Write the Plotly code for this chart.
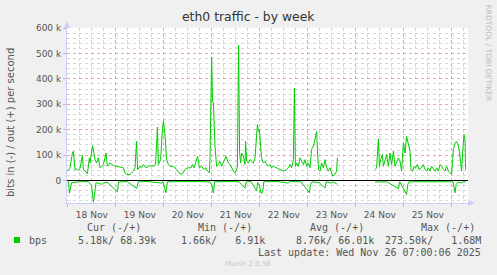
import pandas as pd
import plotly.graph_objects as go

# ---------------- data ----------------
start = pd.Timestamp("2025-11-17 23:36")
span_hours = 200.5

# out (+) traffic, hours since start / kbit/s  (None = gap)
out_hours = [0.3, 1.5, 2.7, 3.2, 4.0, 4.8, 5.7, 6.5, 7.7, 8.2, 9.0, 10.2, 11.2, 11.5, 12.8, 13.5,
             14.0, 14.8, 15.7, 16.5, 17.3, 18.2, 19.5, 20.2, 21.5, 23.2, 24.8, 26.5, 28.2, 29.0,
             29.8, 31.5, 33.2, 34.0, 34.8, 35.3, 36.5, 37.3, 38.2, 39.5, 40.7, 42.3, 43.5, 44.3,
             45.2, 45.7, 46.8, 47.7, 48.2, 48.7, 49.2, 49.8, 50.7, 51.5, 53.2, 54.8, 56.5, 57.8,
             59.0, 60.7, 62.0, 62.7, 63.5, 64.3, 65.3, 66.2, 67.3, 68.5, 69.5, 70.3, 71.2, 71.5,
             72.0, 72.3, 72.8, 73.2, 74.0, 74.8, 75.7, 76.5, 77.3, 78.5, 79.5, 80.7, 81.5, 83.2,
             84.0, 85.2, 85.8, 86.3, 86.8, 87.3, 88.2, 89.0, 89.3, 89.8, 90.7, 91.5, 92.3, 93.2,
             94.0, 94.8, 95.2, 95.7, 96.2, 96.8, 97.3, 98.2, 99.0, 99.8, 100.7, 101.5, 102.3,
             103.2, 104.8, 106.5, 108.2, 109.8, 110.7, 111.5, 112.3, 113.2, 113.7, 114.2, 114.8,
             115.7, 116.5, 117.3, 118.2, 119.0, 119.8, 120.7, 121.5, 122.3, 123.2, 124.0, 124.8,
             125.3, 125.8, 126.5, 127.3, 128.2, 129.0, 129.8, 130.7, 131.5, 132.3, 132.8, 134.0,
             134.8, 135.2, 144.0, 154.0, 154.8, 155.7, 156.2, 156.8, 157.7, 158.2, 159.0, 159.8,
             160.7, 161.5, 162.3, 163.2, 164.0, 164.8, 165.7, 166.5, 167.3, 168.2, 169.0, 169.8,
             170.7, 171.5, 172.0, 172.8, 173.5, 174.3, 175.2, 176.0, 177.3, 178.2, 179.0, 179.8,
             180.7, 181.5, 182.3, 183.2, 184.0, 184.8, 185.7, 186.5, 187.3, 188.2, 189.0, 189.8,
             190.7, 191.5, 192.3, 193.2, 194.0, 194.8, 195.7, 196.2, 196.8, 197.3, 197.8, 198.5,
             199.0, 199.3]
out_kbps = [37, 50, 108, 115, 43, 45, 40, 48, 98, 43, 38, 26, 89, 69, 137, 102,
            82, 69, 89, 50, 56, 63, 108, 56, 69, 59, 56, 52, 50, 30,
            24, 24, 37, 50, 154, 43, 56, 50, 63, 50, 56, 59, 56, 65,
            210, 63, 82, 200, 233, 200, 161, 82, 63, 56, 56, 43, 26, 27,
            43, 50, 50, 63, 50, 69, 95, 50, 56, 43, 50, 37, 30, 89,
            300, 485, 311, 305, 135, 56, 63, 76, 56, 76, 95, 69, 63, 37,
            30, 50, 533, 110, 69, 108, 95, 63, 154, 76, 69, 82, 76, 69,
            89, 161, 220, 193, 200, 135, 89, 69, 76, 63, 56, 63, 50,
            56, 50, 43, 37, 43, 50, 63, 50, 82, 363, 56, 69,
            56, 89, 76, 63, 82, 56, 69, 50, 122, 135, 161, 193,
            108, 43, 37, 69, 50, 82, 50, 37, 50, 30, 17, 24,
            37, 89, None, 43, 50, 163, 56, 82, 102, 56, 76, 102,
            56, 108, 63, 115, 56, 69, 89, 76, 37, 148, 108, 174,
            135, 115, 43, 37, 56, 50, 63, 43, 50, 63, 43, 37,
            50, 37, 56, 43, 37, 50, 37, 63, 56, 43, 37, 56,
            37, 30, 24, 122, 148, 154, 135, 115, 56, 37, 108, 180,
            161, 43]

# in (-) traffic, hours since start / kbit/s (negative, None = gap)
in_hours = [0.3, 0.8, 1.2, 2.3, 6.5, 10.7, 12.3, 13.2, 13.7, 14.5, 17.3, 18.2, 20.0, 25.2, 25.8,
            30.0, 34.8, 35.7, 40.0, 47.3, 48.0, 49.5, 50.2, 55.0, 60.0, 65.0, 71.5, 72.3, 73.2,
            73.8, 80.0, 86.0, 89.0, 89.6, 92.0, 94.8, 95.3, 96.2, 97.0, 97.8, 98.4, 105.0, 110.7,
            111.3, 117.0, 121.2, 121.8, 122.5, 126.0, 129.0, 129.6, 132.0, 133.0, 135.2, 144.0,
            154.0, 160.0, 165.7, 166.3, 169.8, 170.4, 171.0, 180.0, 188.0, 193.0, 194.0, 194.6,
            195.5, 197.0, 198.0, 199.3]
in_kbps = [-8, -5, -50, -8, -5, -4, -20, -85, -60, -8, -15, -10, -6, -44, -6,
           -4, -31, -5, -4, -10, -5, -48, -5, -4, -5, -4, -6, -15, -48,
           -5, -4, -5, -30, -5, -4, -40, -8, -20, -50, -48, -5, -4, -10,
           -4, -5, -48, -15, -5, -8, -30, -5, -10, -5, -15, None,
           -6, -5, -32, -5, -55, -15, -5, -4, -5, -5, -48, -15,
           -6, -10, -5, -5]

y_tick_values = [0, 100, 200, 300, 400, 500, 600]
y_tick_labels = ["0", "100 k", "200 k", "300 k", "400 k", "500 k", "600 k"]

legend_headers = ["Cur (-/+)", "Min (-/+)", "Avg (-/+)", "Max (-/+)"]
legend_values = ["5.18k/ 68.39k", "1.66k/   6.91k", "8.76k/ 66.01k", "273.50k/   1.68M"]
series_name = "bps"
last_update = "Last update: Wed Nov 26 07:00:06 2025"

# ---------------- layout helpers ----------------
W, H = 497, 275
L, R, T, B = 67, 468, 28, 203
GREEN = "#00CC00"
TEXT = "#555555"


def px(x):
    return (x - L) / (R - L)


def py(y):
    return (B - y) / (B - T)


def to_time(hours):
    return [start + pd.Timedelta(hours=h) for h in hours]


def to_bps(vals):
    return [None if v is None else v * 1000 for v in vals]


fig = go.Figure()
fig.add_trace(go.Scatter(x=to_time(out_hours), y=to_bps(out_kbps), mode="lines",
                         line=dict(color=GREEN, width=1), connectgaps=False,
                         hoverinfo="skip", showlegend=False))
fig.add_trace(go.Scatter(x=to_time(in_hours), y=to_bps(in_kbps), mode="lines",
                         line=dict(color=GREEN, width=1), connectgaps=False,
                         hoverinfo="skip", showlegend=False))

x0 = start
x1 = start + pd.Timedelta(hours=span_hours)

fig.update_xaxes(
    type="date", range=[x0, x1],
    tick0="2025-11-18 00:00", dtick=86400000, ticklabelmode="period",
    tickformat="%d %b", tickfont=dict(family="DejaVu Sans", size=9, color=TEXT),
    showgrid=True, gridcolor="#E8A8A8", griddash="dot", gridwidth=1,
    ticks="outside", ticklen=3, tickcolor="#E8A8A8",
    minor=dict(dtick=21600000, tick0="2025-11-18 00:00", showgrid=True,
               gridcolor="#D6D6D6", griddash="dot", ticks=""),
    showline=True, linecolor="#CCCCFF", linewidth=1, zeroline=False, fixedrange=True,
)
fig.update_yaxes(
    range=[-88500, 600000],
    tickvals=[v * 1000 for v in y_tick_values], ticktext=y_tick_labels,
    tickfont=dict(family="DejaVu Sans", size=9, color=TEXT),
    showgrid=True, gridcolor="#E8A8A8", griddash="dot", gridwidth=1,
    ticks="outside", ticklen=3, tickcolor="#E8A8A8",
    minor=dict(dtick=20000, tick0=0, showgrid=True, gridcolor="#D6D6D6",
               griddash="dot", ticks=""),
    showline=True, linecolor="#CCCCFF", linewidth=1,
    zeroline=True, zerolinecolor="#000000", zerolinewidth=1, fixedrange=True,
)

shapes = [
    # axis arrows
    dict(type="path", xref="paper", yref="paper",
         path=f"M {px(64)} {py(28)} L {px(70)} {py(28)} L {px(67)} {py(21)} Z",
         fillcolor="#CCCCFF", line=dict(width=0)),
    dict(type="path", xref="paper", yref="paper",
         path=f"M {px(468)} {py(200)} L {px(468)} {py(206)} L {px(475)} {py(203)} Z",
         fillcolor="#CCCCFF", line=dict(width=0)),
    # legend colour box
    dict(type="rect", xref="paper", yref="paper",
         x0=px(14), x1=px(20), y0=py(243), y1=py(237),
         fillcolor=GREEN, line=dict(width=0)),
]

mono = dict(family="DejaVu Sans Mono", size=10, color=TEXT)
annotations = [
    dict(text="eth0 traffic - by week", x=px(248.5), y=py(17), xref="paper", yref="paper",
         xanchor="center", yanchor="middle", showarrow=False,
         font=dict(family="DejaVu Sans", size=12.4, color="#333333")),
    dict(text="bits in (-) / out (+) per second", x=px(10), y=py(123), xref="paper",
         yref="paper", xanchor="center", yanchor="middle", showarrow=False, textangle=-90,
         font=dict(family="DejaVu Sans", size=10, color=TEXT)),
    dict(text="RRDTOOL / TOBI OETIKER", x=px(488.5), y=py(53), xref="paper", yref="paper",
         xanchor="center", yanchor="middle", showarrow=False, textangle=90,
         font=dict(family="DejaVu Sans", size=7.5, color="#BBBBBB")),
    dict(text=series_name, x=px(26.5), y=py(240), xref="paper", yref="paper",
         xanchor="left", yanchor="middle", showarrow=False, font=mono),
    dict(text=last_update, x=px(483), y=py(252), xref="paper", yref="paper",
         xanchor="right", yanchor="middle", showarrow=False, font=mono),
    dict(text="Munin 2.0.56", x=px(248), y=py(264), xref="paper", yref="paper",
         xanchor="center", yanchor="middle", showarrow=False,
         font=dict(family="DejaVu Sans", size=7, color="#C8C8C8")),
]
header_right = [142.5, 254, 365.5, 476.5]
value_right = [158, 267, 375.5, 483]
for hdr, val, hx, vx in zip(legend_headers, legend_values, header_right, value_right):
    annotations.append(dict(text=hdr, x=px(hx), y=py(227.5), xref="paper", yref="paper",
                            xanchor="right", yanchor="middle", showarrow=False, font=mono))
    annotations.append(dict(text=val.replace(" ", "&nbsp;"), x=px(vx), y=py(240),
                            xref="paper", yref="paper", xanchor="right", yanchor="middle",
                            showarrow=False, font=mono))

fig.update_layout(
    width=W, height=H,
    margin=dict(l=L, r=W - R, t=T, b=H - B, pad=0),
    paper_bgcolor="#F0F0F0", plot_bgcolor="#FFFFFF",
    shapes=shapes, annotations=annotations, showlegend=False,
)

fig.write_html("out.html", config={"displayModeBar": False, "staticPlot": True})
